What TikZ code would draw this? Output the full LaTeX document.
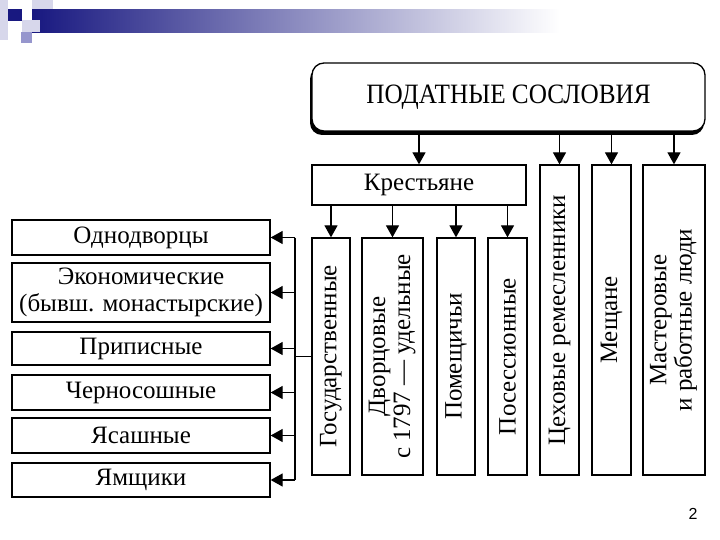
\documentclass[tikz,border=0pt]{standalone}
\usepackage{fontspec}
\setmainfont{Liberation Serif}
\newfontfamily\pagenumfont{Liberation Sans}
\usetikzlibrary{arrows.meta,positioning,calc}
\definecolor{slideblue}{RGB}{24,24,128}
\definecolor{slidelilac}{RGB}{150,150,205}
\definecolor{slidepale}{RGB}{215,215,235}

\tikzset{
  box/.style={draw, line width=1.3pt, fill=white, inner sep=0pt,
    font=\fontsize{25}{25}\selectfont, align=center},
  arr/.style={line width=1.3pt, -{Triangle[length=12pt,width=13pt]}},
  bus/.style={line width=1.3pt},
}

\begin{document}
\begin{tikzpicture}[x=1pt,y=-1pt]
  \useasboundingbox (0,0) rectangle (720,540);

  % slide decoration
  \fill[slidepale] (32,0) rectangle (53,20);
  \fill[slidepale] (0,0) rectangle (8,40);
  \shade[left color=slideblue, right color=white] (32,10) rectangle (560,33);
  \fill[slidepale] (22,20) rectangle (40,32);
  \fill[slideblue] (8,9) rectangle (22,21);
  \fill[slidelilac] (21,32) rectangle (32,43);

  % title
  \fill[rounded corners=12pt] (310,67) rectangle (704,135);
  \node[box, rounded corners=12pt, minimum width=393pt, minimum height=68pt,
    font=\fontsize{28}{28}\selectfont]
    (title) at (508.5,97) {\scalebox{0.9}[1]{ПОДАТНЫЕ СОСЛОВИЯ}};

  \node[box, minimum width=214pt, minimum height=40pt] (krest) at (419,185) {Крестьяне};

  % peasants
  \node[box, minimum width=38pt, minimum height=237pt] (gos) at (331,356.5)
    {\rotatebox{90}{Государственные}};
  \node[box, minimum width=61pt, minimum height=237pt] (dvor) at (392.5,356.5)
    {\rotatebox{90}{\begin{tabular}{@{}c@{}}Дворцовые\\с 1797 — удельные\end{tabular}}};
  \node[box, minimum width=38pt, minimum height=237pt] (pom) at (456,356.5)
    {\rotatebox{90}{Помещичьи}};
  \node[box, minimum width=39pt, minimum height=237pt] (poss) at (507.5,356.5)
    {\rotatebox{90}{Посессионные}};

  % town
  \node[box, minimum width=39pt, minimum height=310pt] (tsekh) at (559.5,320)
    {\rotatebox{90}{Цеховые ремесленники}};
  \node[box, minimum width=39pt, minimum height=310pt] (mesh) at (611.5,320)
    {\rotatebox{90}{Мещане}};
  \node[box, minimum width=62pt, minimum height=310pt] (master) at (674,320)
    {\rotatebox{90}{\begin{tabular}{@{}c@{}}Мастеровые\\и работные люди\end{tabular}}};

  % state peasants
  \node[box, minimum width=258pt, minimum height=35pt] (odno) at (141,237.5) {Однодворцы};
  \node[box, minimum width=258pt, minimum height=59pt, font=\fontsize{25}{27}\selectfont]
    (econ) at (141,292.5) {Экономические\\(бывш. монастырские)};
  \node[box, minimum width=258pt, minimum height=33pt] (prip) at (141,348.5) {Приписные};
  \node[box, minimum width=258pt, minimum height=35pt] (cherno) at (141,392.5) {Черносошные};
  \node[box, minimum width=258pt, minimum height=35pt] (yasa) at (141,435.5) {Ясашные};
  \node[box, minimum width=258pt, minimum height=34pt] (yam) at (141,480) {Ямщики};

  \node[font=\pagenumfont\fontsize{16}{18}\selectfont] (pnum) at (693,514) {2};

  % arrows
  \foreach \n in {krest,tsekh,mesh,master}
    \draw[arr] (title.south -| \n.north) -- (\n.north);
  \foreach \n in {gos,dvor,pom,poss}
    \draw[arr] (krest.south -| \n.north) -- (\n.north);

  \coordinate (busx) at (295,0);
  \draw[bus] (odno.east -| busx) -- (yam.east -| busx);
  \draw[bus] (gos.west) -- (gos.west -| busx);
  \foreach \n in {odno,econ,prip,cherno,yasa,yam}
    \draw[arr] (\n.east -| busx) -- (\n.east);
\end{tikzpicture}
\end{document}
